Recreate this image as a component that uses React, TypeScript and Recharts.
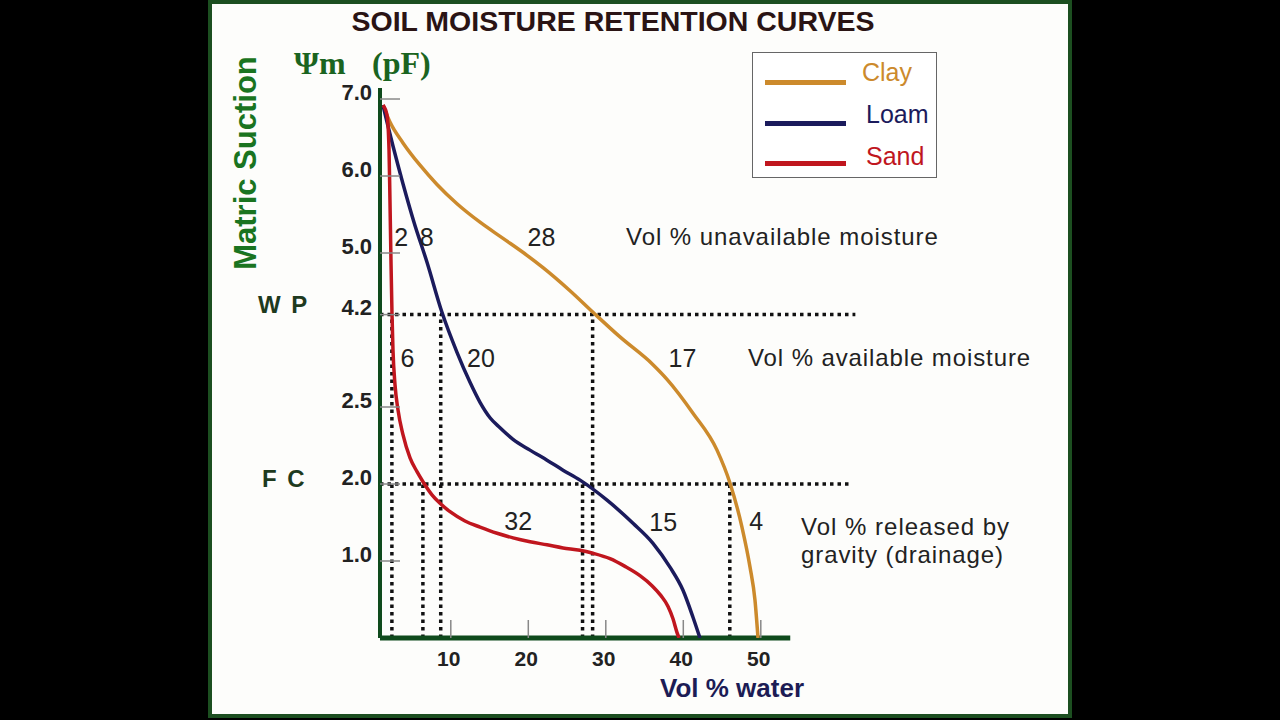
import React from "react"
import { LineChart, Line, XAxis, YAxis, ReferenceLine, ReferenceDot } from "recharts"

// water content (vol %) and matric suction (pF, on the chart's own axis scale)
const clayWater = [1.25, 2.15, 3.83, 6.03, 8.22, 10.8, 13.77, 16.74, 19.83, 21.9, 25.38, 28.35, 31.83, 36.09, 37.9, 41.25, 44.35, 46.03, 47.57, 48.61, 49.25, 49.64]
const clayPF = [6.92, 6.7, 6.43, 6.14, 5.89, 5.64, 5.4, 5.19, 4.97, 4.81, 4.51, 4.23, 3.91, 3.55, 3.36, 2.92, 2.44, 2.01, 1.44, 0.92, 0.49, 0]

const loamWater = [1.25, 1.77, 2.54, 3.83, 5.25, 6.93, 8.86, 10.8, 12.48, 13.77, 15.06, 16.35, 18.03, 20.22, 22.41, 24.48, 26.68, 30.16, 33.51, 36.09, 38.28, 39.96, 41.25, 42.15]
const loamPF = [6.92, 6.7, 6.39, 5.9, 5.4, 4.88, 4.23, 3.71, 3.32, 3.06, 2.86, 2.73, 2.58, 2.44, 2.31, 2.18, 2.05, 1.79, 1.49, 1.23, 0.92, 0.62, 0.27, 0]

const sandWater = [1.25, 1.77, 2.03, 2.15, 2.28, 2.41, 2.54, 2.8, 3.19, 3.83, 4.74, 5.64, 6.41, 7.57, 8.61, 9.9, 11.83, 13.77, 15.97, 18.03, 20.22, 22.41, 24.48, 26.68, 28.35, 30.54, 32.48, 34.41, 35.96, 37.12, 38.03, 38.67, 39.19, 39.45]
const sandPF = [6.92, 6.79, 6.34, 5.69, 4.91, 4.22, 3.74, 3.29, 2.96, 2.64, 2.34, 2.16, 2.03, 1.86, 1.75, 1.64, 1.52, 1.44, 1.36, 1.3, 1.25, 1.21, 1.17, 1.14, 1.1, 1.03, 0.93, 0.81, 0.68, 0.55, 0.41, 0.25, 0.07, 0]

const seriesNames = ["Clay", "Loam", "Sand"]
const seriesColors = ["#cc8a2c", "#1b1b5c", "#c0161e"]

const xTicks = [10, 20, 30, 40, 50]
const yTicks = [1, 2, 3, 4.2, 5, 6, 7]
const yTickLabels = ["1.0", "2.0", "2.5", "4.2", "5.0", "6.0", "7.0"]

const WP = 4.2
const FC = 2.0
const wpWater = [2.4, 8.7, 28.3]
const fcWater = [6.4, 27.0, 46.0]

const volNumbers = ["2", "8", "28", "6", "20", "17", "32", "15", "4"]
const volNumX = [3.6, 6.9, 21.7, 4.4, 13.9, 39.9, 18.7, 37.4, 49.4]
const volNumY = [5.21, 5.21, 5.21, 3.64, 3.64, 3.64, 1.52, 1.51, 1.52]

const toPoints = (xs: number[], ys: number[]) => xs.map((x, i) => ({ x, y: ys[i] }))

const seriesData = [toPoints(clayWater, clayPF), toPoints(loamWater, loamPF), toPoints(sandWater, sandPF)]

const X_MIN = 0.865
const X_MAX = 62.8
const Y_MAX = 7.143
const AXIS_GREEN = "#0f4a1c"
const DOT_STYLE = { stroke: "#111", strokeWidth: 3.5, strokeDasharray: "3.5 4" }

const SANS = "'Liberation Sans', Arial, sans-serif"

function YTick(props: any) {
  const { x, y, payload } = props
  const i = yTicks.indexOf(payload.value)
  return (
    <g>
      <line x1={x + 8} x2={x + 28} y1={y} y2={y} stroke="#888" strokeWidth={1.5} />
      <text x={x} y={y - 7} textAnchor="end" dominantBaseline="central" fontSize={22} fontWeight="bold" fill="#222" fontFamily={SANS}>
        {i >= 0 ? yTickLabels[i] : payload.value}
      </text>
    </g>
  )
}

function XTick(props: any) {
  const { x, y, payload } = props
  return (
    <g>
      <line x1={x} x2={x} y1={y - 20} y2={y - 38} stroke="#888" strokeWidth={1.5} />
      <text x={x - 2} y={y} textAnchor="middle" dominantBaseline="central" fontSize={21} fontWeight="bold" fill="#222" fontFamily={SANS}>
        {payload.value}
      </text>
    </g>
  )
}

function LegendBox() {
  return (
    <div style={{ position: "absolute", left: 752, top: 52, width: 185, height: 126, border: "1.5px solid #666", background: "#fff", boxSizing: "border-box" }}>
      {seriesNames.map((name, i) => (
        <React.Fragment key={name}>
          <div style={{ position: "absolute", left: 12, top: 27 + i * 40.5, width: 81, height: 5, background: seriesColors[i] }} />
          <div style={{ position: "absolute", left: i === 0 ? 109 : 113, top: 5 + i * 42, fontSize: 25, fontFamily: SANS, color: seriesColors[i], lineHeight: "28px" }}>
            {name}
          </div>
        </React.Fragment>
      ))}
    </div>
  )
}

function Txt({ left, top, children, style }: any) {
  return (
    <div style={{ position: "absolute", left, top, transform: "translateY(-50%)", lineHeight: 1, whiteSpace: "nowrap", fontFamily: SANS, ...style }}>
      {children}
    </div>
  )
}

export default function App() {
  return (
    <div style={{ position: "relative", width: 1280, height: 720, background: "#000", overflow: "hidden" }}>
      <style>{`body{margin:0;background:#000}`}</style>
      <div style={{ position: "absolute", left: 208, top: 0, width: 864, height: 718, background: "#fdfdfb", border: "4px solid #1c4f20", boxSizing: "border-box" }} />

      <Txt left={0} top={21} style={{ width: 1226, textAlign: "center", fontSize: 28.5, fontWeight: "bold", color: "#2a1414" }}>
        SOIL MOISTURE RETENTION CURVES
      </Txt>
      <div style={{ position: "absolute", left: 245, top: 163, transform: "translate(-50%,-50%) rotate(-90deg)", fontSize: 31, fontWeight: "bold", color: "#1a7420", fontFamily: SANS, whiteSpace: "nowrap", lineHeight: 1 }}>
        Matric Suction
      </div>
      <Txt left={294} top={63} style={{ fontFamily: "'Liberation Serif', serif", fontSize: 32, fontWeight: "bold", color: "#1a6420" }}>Ψm</Txt>
      <Txt left={372} top={63} style={{ fontFamily: "'Liberation Serif', serif", fontSize: 32, fontWeight: "bold", color: "#1a6420" }}>(pF)</Txt>
      <Txt left={258} top={305} style={{ fontSize: 24, fontWeight: "bold", color: "#1e3a1e", letterSpacing: 2 }}>W P</Txt>
      <Txt left={262} top={479} style={{ fontSize: 24, fontWeight: "bold", color: "#1e3a1e", letterSpacing: 2 }}>F C</Txt>
      <Txt left={626} top={237} style={{ fontSize: 24, color: "#222", letterSpacing: 0.95 }}>Vol % unavailable moisture</Txt>
      <Txt left={748} top={358} style={{ fontSize: 24, color: "#222", letterSpacing: 0.9 }}>Vol % available moisture</Txt>
      <Txt left={801} top={527} style={{ fontSize: 24, color: "#222", letterSpacing: 1 }}>Vol % released by</Txt>
      <Txt left={801} top={555} style={{ fontSize: 24, color: "#222", letterSpacing: 0.9 }}>gravity (drainage)</Txt>
      <Txt left={660} top={688} style={{ fontSize: 26, fontWeight: "bold", color: "#1c1c55" }}>Vol % water</Txt>
      <LegendBox />

      <div style={{ position: "absolute", left: 0, top: 0 }}>
        <LineChart width={1280} height={720} margin={{ top: 88, right: 420, bottom: 42, left: 300 }}>
          <XAxis
            type="number"
            dataKey="x"
            domain={[X_MIN, X_MAX]}
            ticks={xTicks}
            axisLine={false}
            tickLine={false}
            tickSize={0}
            tickMargin={20}
            tick={<XTick />}
            height={40}
            allowDataOverflow
          />
          <YAxis
            type="number"
            dataKey="y"
            domain={[0, Y_MAX]}
            ticks={yTicks}
            width={80}
            tickLine={false}
            tickSize={0}
            tickMargin={8}
            tick={<YTick />}
            axisLine={{ stroke: AXIS_GREEN, strokeWidth: 4 }}
            allowDataOverflow
          />

          <ReferenceLine segment={[{ x: X_MIN, y: WP }, { x: 62.2, y: WP }]} {...DOT_STYLE} />
          <ReferenceLine segment={[{ x: X_MIN, y: FC }, { x: 61.6, y: FC }]} {...DOT_STYLE} />
          {wpWater.map((w) => (
            <ReferenceLine key={"wp" + w} segment={[{ x: w, y: 0 }, { x: w, y: WP }]} {...DOT_STYLE} />
          ))}
          {fcWater.map((w) => (
            <ReferenceLine key={"fc" + w} segment={[{ x: w, y: 0 }, { x: w, y: FC }]} {...DOT_STYLE} />
          ))}
          <ReferenceLine segment={[{ x: X_MIN, y: 0 }, { x: 53.8, y: 0 }]} stroke={AXIS_GREEN} strokeWidth={5} />

          {volNumbers.map((t, i) => (
            <ReferenceDot
              key={"n" + i}
              x={volNumX[i]}
              y={volNumY[i]}
              r={0}
              fill="none"
              stroke="none"
              ifOverflow="visible"
              label={{ value: t, position: "center", fontSize: 25, fill: "#222", fontFamily: SANS }}
            />
          ))}

          {seriesData.map((d, i) => (
            <Line
              key={seriesNames[i]}
              data={d}
              dataKey="y"
              name={seriesNames[i]}
              type="monotone"
              stroke={seriesColors[i]}
              strokeWidth={3.5}
              dot={false}
              isAnimationActive={false}
            />
          ))}
        </LineChart>
      </div>
    </div>
  )
}
